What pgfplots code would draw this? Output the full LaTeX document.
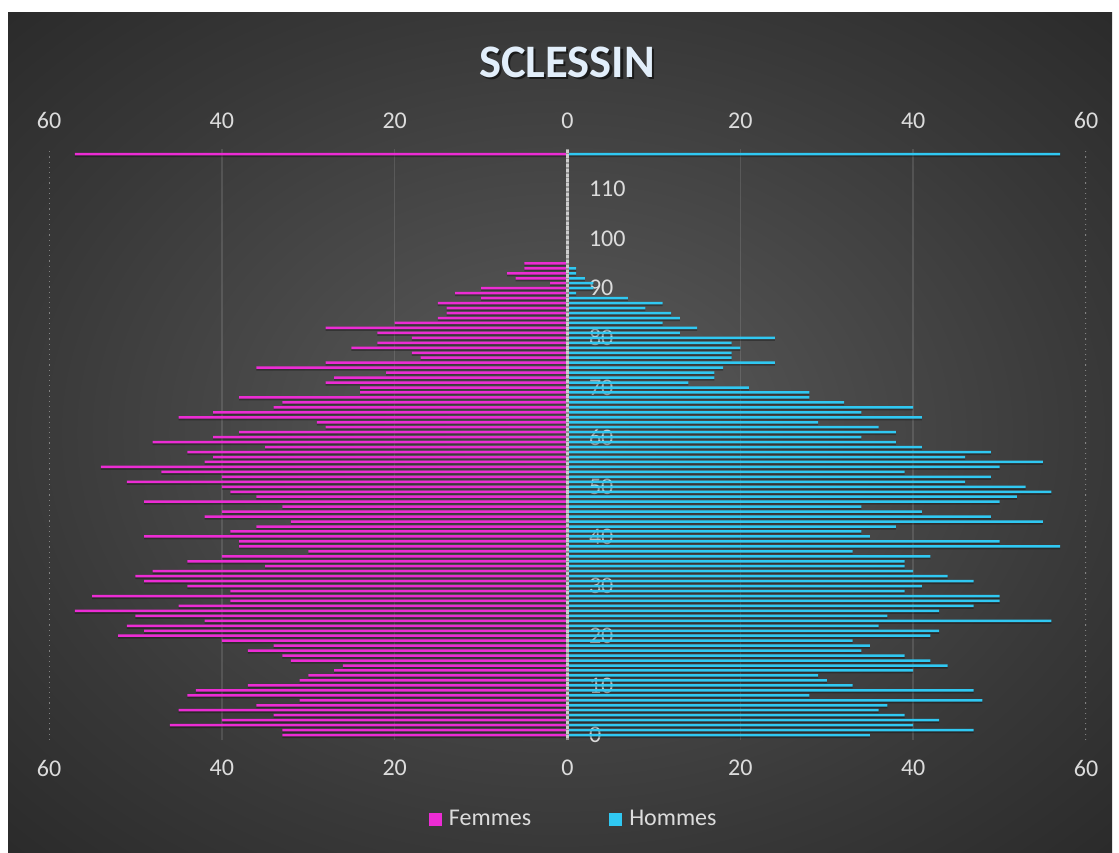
\documentclass[border=0pt]{standalone}
\usepackage{fontspec}
\setmainfont{Carlito}
\usepackage{pgfplots}
\usepackage{pgfplotstable}
\pgfplotsset{compat=1.18}

\definecolor{fem}{RGB}{236,44,212}
\definecolor{hom}{RGB}{48,200,242}
\definecolor{lbl}{RGB}{220,220,220}
\definecolor{bgin}{RGB}{92,92,92}
\definecolor{bgmid}{RGB}{56,56,56}
\definecolor{bgout}{RGB}{42,42,42}
\definecolor{titl}{RGB}{226,238,250}

\pgfdeclareradialshading{bgshade}{\pgfpoint{0bp}{0bp}}{%
  color(0bp)=(bgin); color(25bp)=(bgmid); color(36bp)=(bgout); color(50bp)=(bgout)}

% age, femmes, hommes
\pgfplotstableread{
age f h
0 33 35
1 33 47
2 46 40
3 40 43
4 34 39
5 45 36
6 36 37
7 31 48
8 44 28
9 43 47
10 37 33
11 31 30
12 30 29
13 27 40
14 26 44
15 32 42
16 33 39
17 37 34
18 34 35
19 40 33
20 52 42
21 49 43
22 51 36
23 42 56
24 50 37
25 57 43
26 45 47
27 39 50
28 55 50
29 39 39
30 44 41
31 49 47
32 50 44
33 48 40
34 35 39
35 44 39
36 40 42
37 30 33
38 38 57
39 38 50
40 49 35
41 39 34
42 36 38
43 32 55
44 42 49
45 40 41
46 33 34
47 49 50
48 36 52
49 39 56
50 40 53
51 51 46
52 40 49
53 47 39
54 54 50
55 42 55
56 41 46
57 44 49
58 35 41
59 48 38
60 41 34
61 38 38
62 28 36
63 29 29
64 45 41
65 41 34
66 34 40
67 33 32
68 38 28
69 24 28
70 24 21
71 28 14
72 27 17
73 21 17
74 36 18
75 28 24
76 17 19
77 18 19
78 25 20
79 22 19
80 18 24
81 22 13
82 28 15
83 20 11
84 15 13
85 14 12
86 14 9
87 15 11
88 10 7
89 13 1
90 10 3
91 2 3
92 6 2
93 7 1
94 5 1
95 5 0
117 57 57
}\pyramid

\pgfplotsset{
  sqlegend/.style={legend image code/.code={\fill[##1] (0pt,-3.25pt) rectangle (6.5pt,3.25pt); \path (8pt,0pt);}},
  frame/.style={
    at={(24.5pt,56pt)}, anchor=south west,
    width=518.5pt, height=295.4pt, scale only axis,
    xmin=-60, xmax=60, ymin=-1, ymax=118,
    axis line style={draw=none},
    major tick length=0pt,
    xtick={-60,-40,...,60},
    xticklabel={\pgfmathparse{abs(\tick)}\pgfmathprintnumber{\pgfmathresult}},
    /pgf/number format/assume math mode=true,
    ticklabel style={text=lbl, font=\fontsize{12}{14}\selectfont},
  },
}

\begin{document}
\begin{tikzpicture}
\fill[white] (0,0) rectangle (559.5pt,426pt);
\shade[shading=bgshade] (4pt,0pt) rectangle (556pt,419.5pt);
\node[text=black, opacity=0.55, font=\fontsize{23.3}{27}\selectfont\bfseries] at (284.6pt,393.9pt) {SCLESSIN};
\node[text=titl, font=\fontsize{23.3}{27}\selectfont\bfseries] at (283.5pt,395pt) {SCLESSIN};

\begin{axis}[
  frame,
  ytick={0,10,...,110},
  yticklabel style={anchor=west, xshift=266.5pt},
  xticklabel style={yshift=-6.5pt},
  legend style={at={(0.507,-0.134)}, anchor=center, draw=none, fill=none,
    text=lbl, font=\fontsize{12}{14}\selectfont,
    legend columns=2, /tikz/every even column/.append style={column sep=37pt}},
]
  \draw[white, opacity=0.12, line width=0.8pt] (axis cs:-40,-1) -- (axis cs:-40,118);
  \draw[white, opacity=0.12, line width=0.8pt] (axis cs:-20,-1) -- (axis cs:-20,118);
  \draw[white, opacity=0.12, line width=0.8pt] (axis cs:20,-1) -- (axis cs:20,118);
  \draw[white, opacity=0.12, line width=0.8pt] (axis cs:40,-1) -- (axis cs:40,118);
  \draw[lbl, opacity=0.45, dotted, line width=0.6pt] (axis cs:-60,-1) -- (axis cs:-60,118);
  \draw[lbl, opacity=0.45, dotted, line width=0.6pt] (axis cs:60,-1) -- (axis cs:60,118);

  % shadows
  \addplot[xbar, bar width=1.8pt, bar shift=-0.6pt, fill=black, opacity=0.3, draw=none, forget plot]
    table[y=age, x expr=-\thisrow{f}] {\pyramid};
  \addplot[xbar, bar width=1.8pt, bar shift=-0.6pt, fill=black, opacity=0.3, draw=none, forget plot]
    table[y=age, x=h] {\pyramid};

  \addplot[xbar, bar width=1.25pt, bar shift=0pt, fill=fem, draw=none, sqlegend]
    table[y=age, x expr=-\thisrow{f}] {\pyramid};
  \addlegendentry{Femmes}
  \addplot[xbar, bar width=1.25pt, bar shift=0pt, fill=hom, draw=none, sqlegend]
    table[y=age, x=h] {\pyramid};
  \addlegendentry{Hommes}

  \draw[line width=1.3pt, color={rgb,255:red,205;green,205;blue,205}] (axis cs:0,-1) -- (axis cs:0,118);
  \draw[line width=1.3pt, color={rgb,255:red,150;green,150;blue,150}, dash pattern=on 0.8pt off 1.6pt] (axis cs:0,-1) -- (axis cs:0,118);
\end{axis}

\begin{axis}[
  frame,
  ytick=\empty,
  xticklabel pos=top,
  xticklabel style={yshift=6.5pt},
]
\end{axis}
\end{tikzpicture}
\end{document}
